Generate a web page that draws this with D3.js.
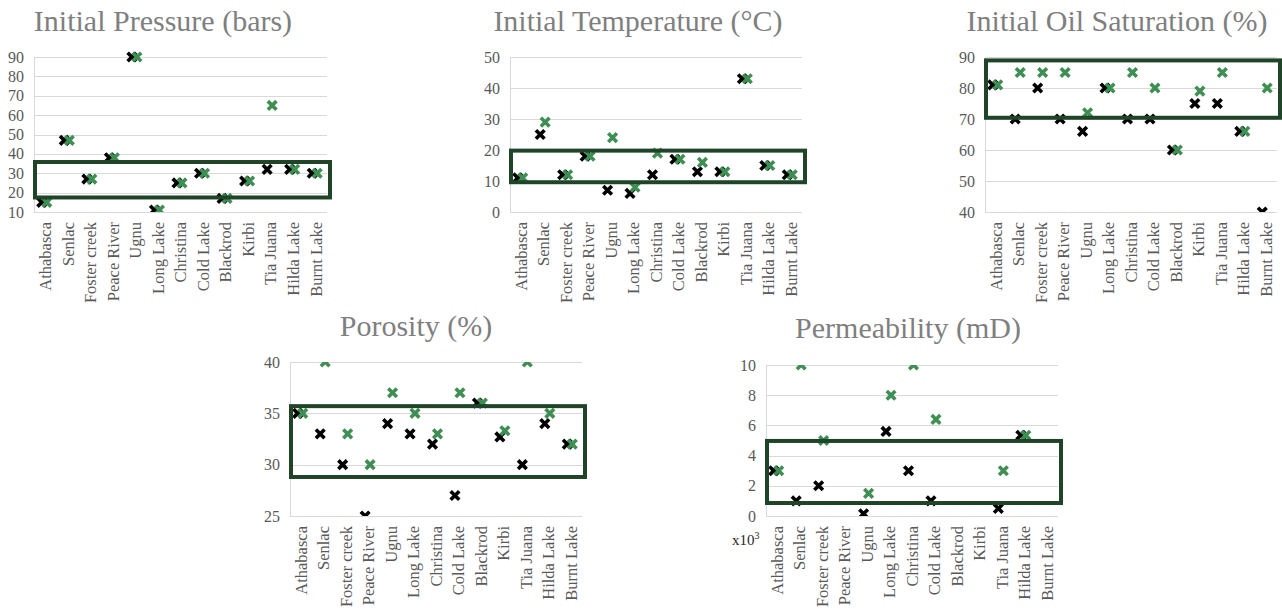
<!DOCTYPE html>
<html>
<head>
<meta charset="utf-8">
<script src="https://cdn.jsdelivr.net/npm/d3@7"></script>
<style>
body { margin: 0; background: #fff; }
svg text { font-family: "Liberation Serif", "DejaVu Serif", serif; }
</style>
</head>
<body>
<script>
var width = 1282;
var height = 610;

var categories = ["Athabasca", "Senlac", "Foster creek", "Peace River", "Ugnu", "Long Lake",
    "Christina", "Cold Lake", "Blackrod", "Kirbi", "Tia Juana", "Hilda Lake", "Burnt Lake"];

// black = first series, green = second series
var pressureBlack = [15, 47, 27, 38, 90, 11, 25, 30, 17, 26, 32, 32, 30];
var pressureGreen = [15, 47, 27, 38, 90, 11, 25, 30, 17, 26, 65, 32, 30];
var pressureBox = [17.5, 35.8];
var pressureTicks = [10, 20, 30, 40, 50, 60, 70, 80, 90];

var tempBlack = [11, 25, 12, 18, 7, 6, 12, 17, 13, 13, 43, 15, 12];
var tempGreen = [11, 29, 12, 18, 24, 8, 19, 17, 16, 13, 43, 15, 12];
var tempBox = [9.6, 19.8];
var tempTicks = [0, 10, 20, 30, 40, 50];

var satBlack = [81, 70, 80, 70, 66, 80, 70, 70, 60, 75, 75, 66, 40];
var satGreen = [81, 85, 85, 85, 72, 80, 85, 80, 60, 79, 85, 66, 80];
var satBox = [70.4, 88.9];
var satTicks = [40, 50, 60, 70, 80, 90];

var poroBlack = [35, 33, 30, 25, 34, 33, 32, 27, 36, 32.7, 30, 34, 32];
var poroGreen = [35, 40, 33, 30, 37, 35, 33, 37, 36, 33.3, 40, 35, 32];
var poroBox = [28.8, 35.7];
var poroTicks = [25, 30, 35, 40];

// permeability in x10^3 mD
var permBlack = [3, 1, 2, null, 0.15, 5.6, 3, 1, null, null, 0.5, 5.35, null];
var permGreen = [3, 10, 5, null, 1.5, 8, 10, 6.4, null, null, 3, 5.35, null];
var permBox = [0.86, 4.97];
var permTicks = [0, 2, 4, 6, 8, 10];

var blackColor = "#000000";
var greenColor = "#3f8f55";
var boxColor = "#1f4428";
var serif = "'Liberation Serif', 'DejaVu Serif', serif";

var canvas = d3.select("body")
    .append("svg")
    .attr("width", width)
    .attr("height", height)
    .attr("font-family", serif);

canvas.append("rect")
    .attr("width", width)
    .attr("height", height)
    .attr("fill", "#fff");

var marker = d3.symbol().type(d3.symbolX).size(50);

function panel(id, title, titleX, titleY, left, right, top, bottom, ticks, black, green, box, clipPad) {
    var x = d3.scaleBand().domain(categories).range([left, right]);
    var y = d3.scaleLinear().domain([ticks[0], ticks[ticks.length - 1]]).range([bottom, top]);

    var g = canvas.append("g").attr("class", id);

    canvas.append("clipPath")
        .attr("id", "clip_" + id)
        .append("rect")
        .attr("x", left - 10)
        .attr("y", top - clipPad)
        .attr("width", right - left + 20)
        .attr("height", bottom - top + clipPad);

    // title
    g.append("text")
        .attr("x", titleX)
        .attr("y", titleY)
        .attr("text-anchor", "middle")
        .attr("font-size", "30px")
        .attr("fill", "#7f7f7f")
        .text(title);

    // gridlines
    g.selectAll(".grid")
        .data(ticks)
        .enter()
        .append("line")
        .attr("x1", left)
        .attr("x2", right)
        .attr("y1", function(d) { return Math.round(y(d)) + 0.5; })
        .attr("y2", function(d) { return Math.round(y(d)) + 0.5; })
        .attr("stroke", "#d9d9d9")
        .attr("stroke-width", 1);

    g.append("line")
        .attr("x1", left + 0.5)
        .attr("x2", left + 0.5)
        .attr("y1", top)
        .attr("y2", bottom)
        .attr("stroke", "#d9d9d9");

    // y tick labels
    g.selectAll(".ytick")
        .data(ticks)
        .enter()
        .append("text")
        .attr("x", left - 10)
        .attr("y", function(d) { return y(d); })
        .attr("dy", "0.35em")
        .attr("text-anchor", "end")
        .attr("font-size", "16px")
        .attr("fill", "#595959")
        .text(function(d) { return d; });

    // category labels
    g.selectAll(".xtick")
        .data(categories)
        .enter()
        .append("text")
        .attr("transform", function(d) {
            return "translate(" + (x(d) + x.bandwidth() / 2) + "," + (bottom + 10) + ") rotate(-90)";
        })
        .attr("dy", "0.35em")
        .attr("text-anchor", "end")
        .attr("font-size", "16.5px")
        .attr("fill", "#595959")
        .text(function(d) { return d; });

    var pts = g.append("g").attr("clip-path", "url(#clip_" + id + ")");

    function series(values, dx, color) {
        pts.selectAll(".s" + color.slice(1))
            .data(values.map(function(v, i) { return {c: categories[i], v: v}; })
                .filter(function(d) { return d.v !== null; }))
            .enter()
            .append("path")
            .attr("d", marker)
            .attr("transform", function(d) {
                return "translate(" + (x(d.c) + x.bandwidth() / 2 + dx) + "," + y(d.v) + ")";
            })
            .attr("fill", "none")
            .attr("stroke", color)
            .attr("stroke-width", 3.6);
    }
    series(black, -3.5, blackColor);
    series(green, 1.5, greenColor);

    // highlight box
    g.append("rect")
        .attr("x", left + 1)
        .attr("y", y(box[1]))
        .attr("width", right - left + 2)
        .attr("height", y(box[0]) - y(box[1]))
        .attr("fill", "none")
        .attr("stroke", boxColor)
        .attr("stroke-width", 4);

    return g;
}

panel("pressure", "Initial Pressure (bars)", 163, 31, 34, 327, 57, 212, pressureTicks, pressureBlack, pressureGreen, pressureBox, 10);
panel("temp", "Initial Temperature (\u00B0C)", 638, 31, 510, 802, 57, 212, tempTicks, tempBlack, tempGreen, tempBox, 0);
panel("sat", "Initial Oil Saturation (%)", 1117, 31, 985, 1277, 57, 212, satTicks, satBlack, satGreen, satBox, 0);
panel("poro", "Porosity (%)", 416, 336, 290, 582, 362, 516, poroTicks, poroBlack, poroGreen, poroBox, 0);
var perm = panel("perm", "Permeability (mD)", 908, 338, 766, 1058, 365, 516, permTicks, permBlack, permGreen, permBox, 0);

var unit = perm.append("text")
    .attr("x", 732)
    .attr("y", 545)
    .attr("font-size", "15px")
    .attr("fill", "#262626");
unit.append("tspan").text("x10");
unit.append("tspan").attr("font-size", "10px").attr("dy", "-6").text("3");
</script>
</body>
</html>
